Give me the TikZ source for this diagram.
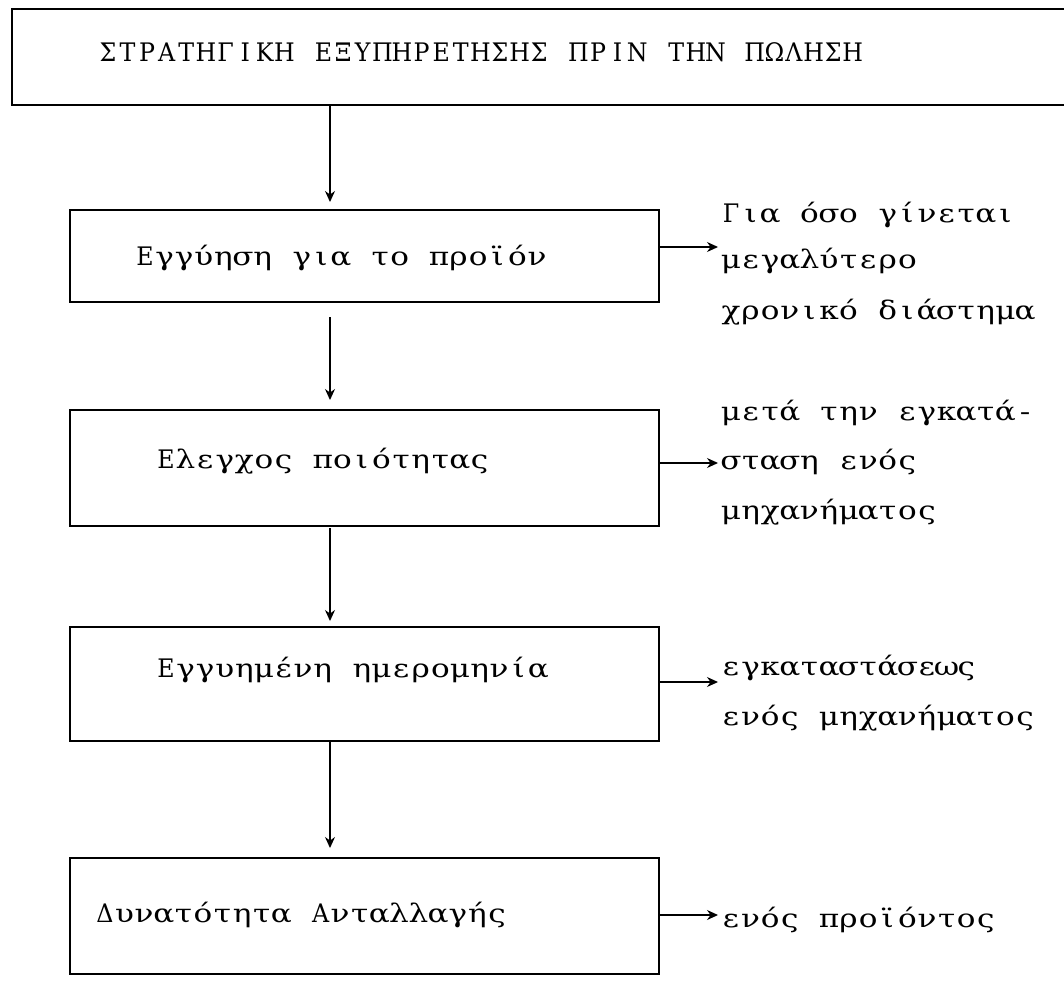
\documentclass[tikz,border=0pt]{standalone}
\usepackage{fontspec}
\setmainfont{DejaVu Serif}
\usetikzlibrary{arrows.meta}
\ExplSyntaxOn
\dim_new:N \l_typew_pitch_dim
\dim_set:Nn \l_typew_pitch_dim {19.6pt}
\NewDocumentCommand \typew { m }
  {
    \str_map_inline:nn {#1}
      {
        \str_if_eq:nnTF {##1} { ~ }
          { \hbox_to_wd:nn { \l_typew_pitch_dim } { } }
          {
            \int_compare:nNnTF { \lccode `##1 } = { `##1 }
              { \hbox_to_wd:nn { \l_typew_pitch_dim } { \hss \scalebox{1.22}[1]{##1} \hss } }
              { \hbox_to_wd:nn { \l_typew_pitch_dim } { \hss \scalebox{0.93}[1]{##1} \hss } }
          }
      }
  }
\ExplSyntaxOff
\begin{document}
\begin{tikzpicture}[x=1pt,y=-1pt,
  box/.style={draw, line width=2.4pt, inner sep=0pt, anchor=north west, minimum width=589pt},
  txt/.style={anchor=base west, inner sep=0pt, font=\fontsize{25.5}{25.5}\selectfont},
  arr/.style={-{Stealth[length=11pt,width=10pt]}, line width=1.3pt}]
\useasboundingbox (0,0) rectangle (1064,985);
\clip (0,0) rectangle (1064,985);
% top box (its right edge lies outside the page)
\node[box, minimum width=1100pt, minimum height=96pt] (top) at (11,8) {};
\node[txt] (toptxt) at (98,61) {\typew{ΣΤΡΑΤΗΓΙΚΗ ΕΞΥΠΗΡΕΤΗΣΗΣ ΠΡΙΝ ΤΗΝ ΠΩΛΗΣΗ}};
% boxes
\node[box, minimum height=92pt] (b1) at (69,209) {};
\node[box, minimum height=116pt] (b2) at (69,409) {};
\node[box, minimum height=114pt] (b3) at (69,626) {};
\node[box, minimum height=116pt] (b4) at (69,857) {};
\node[txt] (t1) at (135,265) {\typew{Εγγύηση για το προϊόν}};
\node[txt] (t2) at (156,468) {\typew{Ελεγχος ποιότητας}};
\node[txt] (t3) at (156,677) {\typew{Εγγυημένη ημερομηνία}};
\node[txt] (t4) at (95,922) {\typew{Δυνατότητα Ανταλλαγής}};
% vertical arrows
\coordinate (ax) at (330,0);
\draw[arr, shorten >=7pt] (top.south -| ax) -- (b1.north -| ax);
\draw[arr, shorten <=14pt, shorten >=9pt] (b1.south -| ax) -- (b2.north -| ax);
\draw[arr, shorten <=1pt, shorten >=5pt] (b2.south -| ax) -- (b3.north -| ax);
\draw[arr, shorten >=9pt] (b3.south -| ax) -- (b4.north -| ax);
% right labels
\node[txt] (r1a) at (721,222) {\typew{Για όσο γίνεται}};
\node[txt] (r1b) at (721,268) {\typew{μεγαλύτερο}};
\node[txt] (r1c) at (721,319) {\typew{χρονικό διάστημα}};
\node[txt] (r2a) at (721,420) {\typew{μετά την εγκατά-}};
\node[txt] (r2b) at (721,469) {\typew{σταση ενός}};
\node[txt] (r2c) at (721,519) {\typew{μηχανήματος}};
\node[txt] (r3a) at (721,675) {\typew{εγκαταστάσεως}};
\node[txt] (r3b) at (721,725) {\typew{ενός μηχανήματος}};
\node[txt] (r4a) at (721,927) {\typew{ενός προϊόντος}};
% right arrows
\coordinate (e1) at (718,247);
\coordinate (e2) at (718,463);
\coordinate (e3) at (718,682);
\coordinate (e4) at (718,915);
\draw[arr] (b1.east |- e1) -- (e1);
\draw[arr] (b2.east |- e2) -- (e2);
\draw[arr] (b3.east |- e3) -- (e3);
\draw[arr] (b4.east |- e4) -- (e4);
\end{tikzpicture}
\end{document}
